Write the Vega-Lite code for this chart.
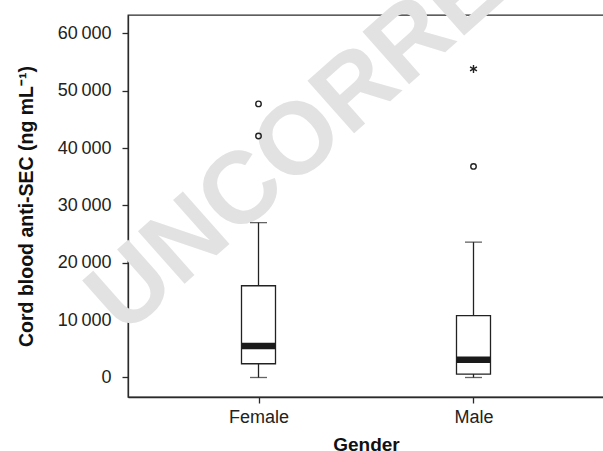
{
  "$schema": "https://vega.github.io/schema/vega-lite/v6.json",
  "width": 476,
  "height": 382,
  "autosize": "none",
  "padding": {"left": 128, "top": 15, "right": 0, "bottom": 54},
  "background": "white",
  "config": {
    "font": "Liberation Sans",
    "view": {"stroke": "#2a2a2a", "strokeWidth": 1.3},
    "axis": {
      "zindex": 1,
      "grid": false,
      "domainColor": "#2a2a2a",
      "domainWidth": 1.3,
      "tickColor": "#2a2a2a",
      "tickWidth": 1.3,
      "tickSize": 6,
      "labelFont": "Liberation Sans",
      "labelFontSize": 18,
      "labelColor": "#222222",
      "titleFont": "Liberation Sans",
      "titleFontWeight": "bold",
      "titleColor": "#111111"
    },
    "axisY": {"labelPadding": 11, "titleFontSize": 19.5, "titlePadding": 21},
    "axisX": {"labelPadding": 5, "titleFontSize": 19, "titlePadding": 9, "labelAngle": 0}
  },
  "datasets": {
    "boxes": [
      {"gender": "Female", "lo": 0, "q1": 2400, "median": 5500, "q3": 16000, "hi": 27000},
      {"gender": "Male", "lo": 0, "q1": 600, "median": 3100, "q3": 10800, "hi": 23600}
    ],
    "outliers": [
      {"gender": "Female", "value": 47700, "kind": "circle"},
      {"gender": "Female", "value": 42100, "kind": "circle"},
      {"gender": "Male", "value": 53800, "kind": "star"},
      {"gender": "Male", "value": 36800, "kind": "circle"}
    ],
    "watermark": [
      {"gender": "Male", "value": 69950, "label": "UNCORRECTED"}
    ]
  },
  "layer": [
    {
      "data": {"name": "watermark"},
      "mark": {"type": "text", "fontSize": 102, "fontWeight": "bold", "font": "Liberation Sans", "fill": "#e2e2e2", "angle": -41.6, "align": "center", "baseline": "middle", "dx": -104, "dy": 7},
      "encoding": {
        "x": {"field": "gender", "type": "nominal", "sort": ["Female", "Male"], "scale": {"type": "point", "padding": 0.607}, "title": "Gender"},
        "y": {"field": "value", "type": "quantitative", "scale": {"domain": [-3400, 63200], "nice": false, "zero": false}, "title": "Cord blood anti-SEC (ng mL⁻¹)",
          "axis": {"values": [0, 10000, 20000, 30000, 40000, 50000, 60000], "labelExpr": "replace(format(datum.value, ','), ',', '\u2009')"}},
        "text": {"field": "label"}
      }
    },
    {
      "data": {"name": "boxes"},
      "mark": {"type": "rule", "color": "#222222", "strokeWidth": 1.3},
      "encoding": {
        "x": {"field": "gender", "type": "nominal", "sort": ["Female", "Male"], "title": "Gender"},
        "y": {"field": "lo", "type": "quantitative", "title": "Cord blood anti-SEC (ng mL⁻¹)"},
        "y2": {"field": "hi"}
      }
    },
    {
      "data": {"name": "boxes"},
      "mark": {"type": "tick", "color": "#222222", "size": 17, "thickness": 1.3, "orient": "horizontal"},
      "encoding": {
        "x": {"field": "gender", "type": "nominal", "sort": ["Female", "Male"], "title": "Gender"},
        "y": {"field": "lo", "type": "quantitative", "title": "Cord blood anti-SEC (ng mL⁻¹)"}
      }
    },
    {
      "data": {"name": "boxes"},
      "mark": {"type": "tick", "color": "#222222", "size": 17, "thickness": 1.3, "orient": "horizontal"},
      "encoding": {
        "x": {"field": "gender", "type": "nominal", "sort": ["Female", "Male"], "title": "Gender"},
        "y": {"field": "hi", "type": "quantitative", "title": "Cord blood anti-SEC (ng mL⁻¹)"}
      }
    },
    {
      "data": {"name": "boxes"},
      "mark": {"type": "bar", "width": 34, "fill": "white", "stroke": "#222222", "strokeWidth": 1.3},
      "encoding": {
        "x": {"field": "gender", "type": "nominal", "sort": ["Female", "Male"], "title": "Gender"},
        "y": {"field": "q1", "type": "quantitative", "title": "Cord blood anti-SEC (ng mL⁻¹)"},
        "y2": {"field": "q3"}
      }
    },
    {
      "data": {"name": "boxes"},
      "mark": {"type": "tick", "color": "#1a1a1a", "size": 34, "thickness": 6.6, "orient": "horizontal", "opacity": 1},
      "encoding": {
        "x": {"field": "gender", "type": "nominal", "sort": ["Female", "Male"], "title": "Gender"},
        "y": {"field": "median", "type": "quantitative", "title": "Cord blood anti-SEC (ng mL⁻¹)"}
      }
    },
    {
      "data": {"name": "outliers"},
      "mark": {"type": "point", "filled": false, "stroke": "#222222", "strokeWidth": 1.4, "size": 30, "opacity": 1},
      "encoding": {
        "x": {"field": "gender", "type": "nominal", "sort": ["Female", "Male"], "title": "Gender"},
        "y": {"field": "value", "type": "quantitative", "title": "Cord blood anti-SEC (ng mL⁻¹)"},
        "shape": {"field": "kind", "type": "nominal", "legend": null,
          "scale": {"domain": ["circle", "star"], "range": ["circle", "M0,-1.45L0,1.45M-1.26,-0.73L1.26,0.73M-1.26,0.73L1.26,-0.73"]}}
      }
    }
  ]
}
